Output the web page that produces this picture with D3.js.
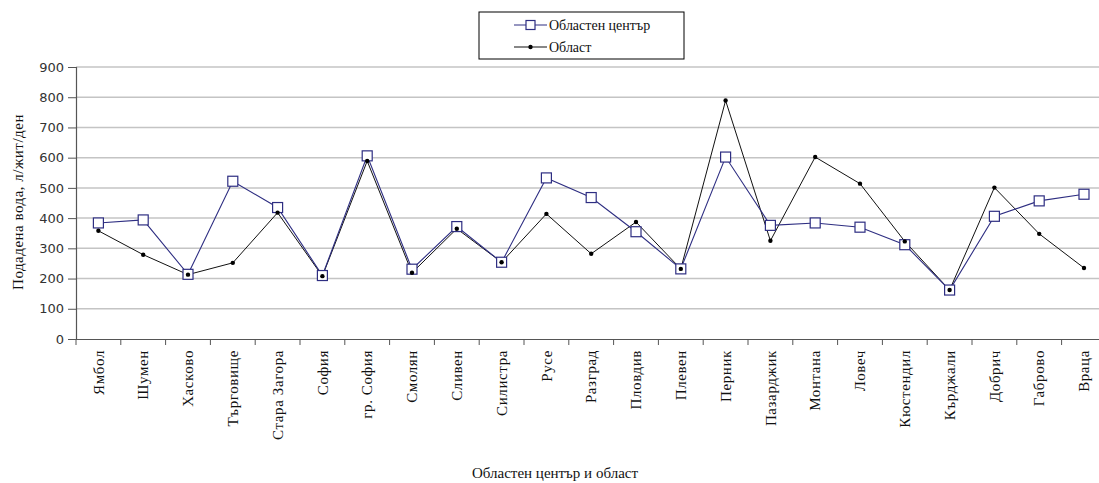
<!DOCTYPE html>
<html><head><meta charset="utf-8">
<script src="https://cdn.jsdelivr.net/npm/d3@7"></script>
<style>body{margin:0;background:#fff;}svg{display:block;}</style>
</head><body>
<script>
const categories = ["Ямбол","Шумен","Хасково","Търговище","Стара Загора","София","гр. София","Смолян","Сливен","Силистра","Русе","Разград","Пловдив","Плевен","Перник","Пазарджик","Монтана","Ловеч","Кюстендил","Кърджали","Добрич","Габрово","Враца"];
const centerValues = [384,394,214,522,435,210,606,231,372,254,533,468,355,232,602,376,384,370,312,162,406,457,479];
const regionValues = [358,279,213,252,418,208,589,219,365,254,414,282,387,232,789,325,602,514,323,162,501,348,235];
const yTicks = [0,100,200,300,400,500,600,700,800,900];
const seriesNames = ["Областен център","Област"];

const W = 1099, H = 483;
const plotLeft = 76, plotTop = 67, plotBottom = 339, stepPx = 44.8;
const svg = d3.select("body").append("svg").attr("width", W).attr("height", H);

const x = d3.scaleBand().domain(categories).range([plotLeft, plotLeft + stepPx * categories.length]).padding(0);
const y = d3.scaleLinear().domain([0, 900]).range([plotBottom, plotTop]);
const cx = d => x(d) + x.bandwidth() / 2;

// gridlines
svg.append("g").selectAll("line").data(yTicks.filter(t => t > 0)).join("line")
  .attr("x1", plotLeft).attr("x2", W).attr("y1", d => y(d)).attr("y2", d => y(d))
  .attr("stroke", "#c4c4c4").attr("stroke-width", 1.5);

// y axis
const ya = svg.append("g").attr("transform", `translate(${plotLeft},0)`)
  .call(d3.axisLeft(y).tickValues(yTicks).tickSize(8).tickPadding(4));
ya.select(".domain").attr("stroke", "#555").attr("stroke-width", 1.2);
ya.selectAll(".tick line").attr("stroke", "#555");
ya.selectAll("text").attr("font-family", "DejaVu Sans").attr("font-size", 13).attr("fill", "#333");

// x axis
const xa = svg.append("g").attr("transform", `translate(0,${plotBottom})`)
  .call(d3.axisBottom(x).tickSize(0).tickSizeOuter(0));
xa.select(".domain").attr("stroke", "#555").attr("stroke-width", 1.2);
xa.selectAll("text")
  .attr("font-family", "Liberation Serif").attr("font-size", 15).attr("fill", "#111")
  .attr("letter-spacing", "0.6px")
  .attr("transform", "rotate(-90)").attr("text-anchor", "end")
  .attr("x", -11).attr("y", 0).attr("dy", "0.35em");
svg.append("g").selectAll("line").data(categories).join("line")
  .attr("x1", d => x(d)).attr("x2", d => x(d)).attr("y1", plotBottom).attr("y2", plotBottom + 6)
  .attr("stroke", "#555");

// lines
const line = vals => d3.line().x((v, i) => cx(categories[i])).y(v => y(v))(vals);
const navy = "#2e2e82";
svg.append("path").attr("d", line(regionValues)).attr("fill", "none").attr("stroke", "#111").attr("stroke-width", 1);
svg.append("path").attr("d", line(centerValues)).attr("fill", "none").attr("stroke", navy).attr("stroke-width", 1.1);
svg.append("g").selectAll("rect").data(centerValues).join("rect")
  .attr("x", (v, i) => cx(categories[i]) - 5).attr("y", v => y(v) - 5)
  .attr("width", 10).attr("height", 10).attr("fill", "#fff").attr("stroke", navy).attr("stroke-width", 1.2);
svg.append("g").selectAll("circle").data(regionValues).join("circle")
  .attr("cx", (v, i) => cx(categories[i])).attr("cy", v => y(v)).attr("r", 2.2).attr("fill", "#000");

// legend
const lg = svg.append("g");
lg.append("rect").attr("x", 479).attr("y", 12).attr("width", 205).attr("height", 47)
  .attr("fill", "#fff").attr("stroke", "#000").attr("stroke-width", 1);
[0, 1].forEach(i => {
  const ly = 25 + i * 22;
  lg.append("line").attr("x1", 514).attr("x2", 547).attr("y1", ly).attr("y2", ly)
    .attr("stroke", i === 0 ? navy : "#111").attr("stroke-width", 1.1);
  if (i === 0) lg.append("rect").attr("x", 526).attr("y", ly - 4.5).attr("width", 9).attr("height", 9)
    .attr("fill", "#fff").attr("stroke", navy).attr("stroke-width", 1.2);
  else lg.append("circle").attr("cx", 530.5).attr("cy", ly).attr("r", 2.2).attr("fill", "#000");
  lg.append("text").attr("x", 549).attr("y", ly).attr("dy", "0.35em")
    .attr("font-family", "Liberation Serif").attr("font-size", 14).attr("fill", "#111")
    .text(seriesNames[i]);
});

// axis titles
svg.append("text").attr("x", 555).attr("y", 473).attr("dy", "0.35em").attr("text-anchor", "middle")
  .attr("font-family", "Liberation Serif").attr("font-size", 15).attr("fill", "#111")
  .text("Областен център и област");
svg.append("text").attr("transform", `translate(18,202) rotate(-90)`).attr("dy", "0.35em").attr("text-anchor", "middle")
  .attr("font-family", "Liberation Serif").attr("font-size", 15).attr("fill", "#111").attr("letter-spacing", "0.5px")
  .text("Подадена вода, л/жит/ден");
</script>
</body></html>
